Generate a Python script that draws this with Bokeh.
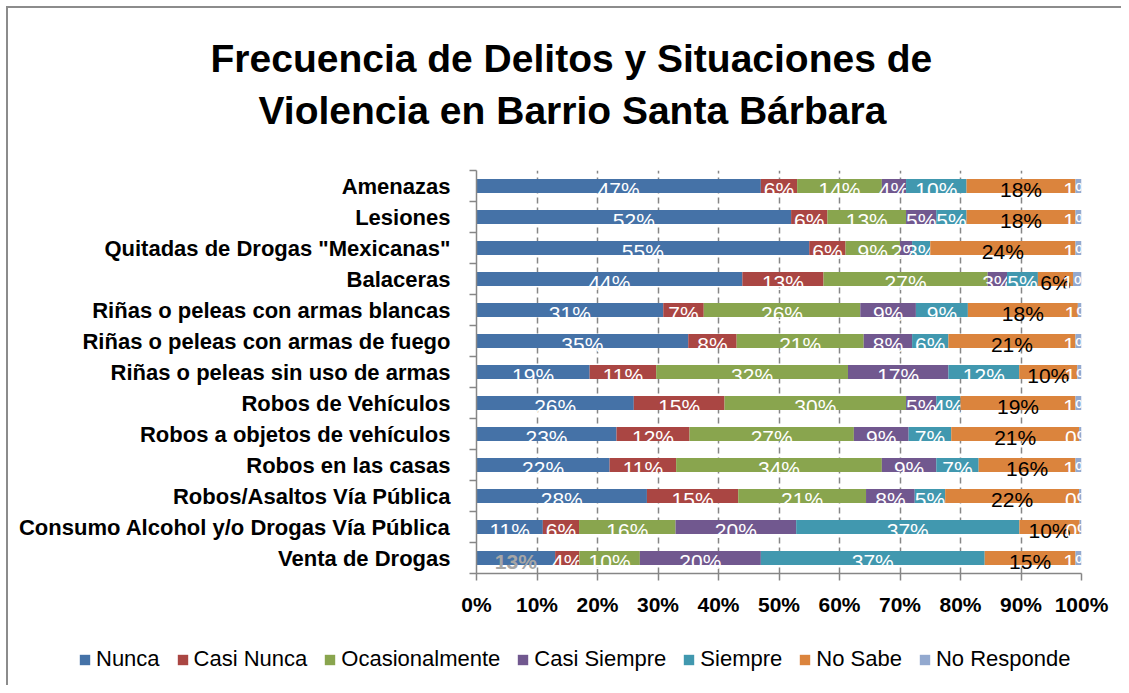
from bokeh.plotting import figure
from bokeh.layouts import column
from bokeh.models import FixedTicker, PrintfTickFormatter, Title, ColumnDataSource, Range1d, Legend
from bokeh.embed import file_html
from bokeh.resources import INLINE

# ---------------- data ----------------
categories = [
    "Amenazas",
    "Lesiones",
    'Quitadas de Drogas "Mexicanas"',
    "Balaceras",
    "Riñas o peleas con armas blancas",
    "Riñas o peleas con armas de fuego",
    "Riñas o peleas sin uso de armas",
    "Robos de Vehículos",
    "Robos a objetos de vehículos",
    "Robos en las casas",
    "Robos/Asaltos Vía Pública",
    "Consumo Alcohol y/o Drogas Vía Pública",
    "Venta de Drogas",
]
series_names = ["Nunca", "Casi Nunca", "Ocasionalmente", "Casi Siempre",
                "Siempre", "No Sabe", "No Responde"]

nunca        = [47, 52, 55, 43.9, 30.9, 35, 18.7, 26, 23, 22, 28, 11, 13]
casi_nunca   = [6, 6, 6, 13.4, 6.7, 8, 11.0, 15, 12, 11, 15, 6, 4]
ocasional    = [14, 13, 9, 27.1, 25.9, 21, 31.7, 30, 27, 34, 21, 16, 10]
casi_siempre = [4, 5, 2, 3.2, 9.2, 8, 16.6, 5, 9, 9, 8, 20, 20]
siempre      = [10, 5, 3, 5.1, 8.6, 6, 11.7, 4, 7, 7, 5, 37, 37]
no_sabe      = [18, 18, 24, 5.8, 18.2, 21, 9.6, 19, 21, 16, 22, 10, 15]
no_responde  = [1, 1, 1, 1.4, 0.6, 1, 0.7, 1, 0.4, 1, 0.4, 0.3, 1]

x_ticks = [0, 10, 20, 30, 40, 50, 60, 70, 80, 90, 100]

title_lines = ["Frecuencia de Delitos y Situaciones de",
               "Violencia en Barrio Santa Bárbara"]

# ---------------- style ----------------
colors = ["#4572A7", "#AA4643", "#89A54E", "#71588F", "#4198AF", "#DB843D", "#93A9CF"]
label_colors = ["white", "white", "white", "white", "white", "black", "white"]
SANS = "Liberation Sans"
GRAY = "#868686"

series = [nunca, casi_nunca, ocasional, casi_siempre, siempre, no_sabe, no_responde]
n = len(categories)
ys = [n - 1 - i for i in range(n)]
totals = [sum(s[i] for s in series) for i in range(n)]

p = figure(
    frame_width=605, frame_height=403,
    min_border_left=468, min_border_right=40, min_border_top=162, min_border_bottom=50,
    x_range=Range1d(0, 100), y_range=Range1d(-0.5, n - 0.5),
    output_backend="svg", toolbar_location=None,
)
p.frame_align = False
p.outline_line_color = None
p.background_fill_color = "white"
p.border_fill_color = "white"

# legend strip under the chart; its swatch renderers share the bar data but lie
# outside this strip's visible range, so only the legend itself shows
leg_fig = figure(width=1113, height=62, min_border=0, x_axis_type=None, y_axis_type=None,
                 x_range=Range1d(0, 100), y_range=Range1d(n + 10, n + 11),
                 output_backend="svg", toolbar_location=None)
leg_fig.frame_align = False
leg_fig.outline_line_color = None
leg_fig.grid.visible = False
leg_fig.border_fill_color = "white"
leg_fig.background_fill_color = "white"

items = []
cum = [0.0] * n
for k, (name, vals) in enumerate(zip(series_names, series)):
    left = [cum[i] / totals[i] * 100 for i in range(n)]
    right = [(cum[i] + vals[i]) / totals[i] * 100 for i in range(n)]
    mid = [(l + r) / 2 for l, r in zip(left, right)]
    cum = [cum[i] + vals[i] for i in range(n)]
    tcol = [label_colors[k]] * n
    tstyle = ["normal"] * n
    if k == 0:
        tcol[-1] = "#a6a6a6"
        tstyle[-1] = "bold"
    src = ColumnDataSource(dict(y=ys, left=left, right=right, mid=mid,
                                lab=[f"{round(v)}%" for v in vals],
                                tc=tcol, ts=tstyle))
    p.hbar(y="y", left="left", right="right", height=0.45, source=src,
           fill_color=colors[k], line_color=None)
    p.text(x="mid", y="y", text="lab", source=src, text_align="center",
           text_baseline="middle", y_offset=3, text_color="tc", text_font_style="ts",
           text_font={"value": SANS}, text_font_size="21px")
    sw = leg_fig.hbar(y="y", left="left", right="right", height=0.45, source=src,
                      fill_color=colors[k], line_color=None)
    items.append((name, [sw]))

# x axis
p.xaxis.ticker = FixedTicker(ticks=x_ticks)
p.xaxis.formatter = PrintfTickFormatter(format="%d%%")
p.xaxis.axis_line_color = GRAY
p.xaxis.axis_line_width = 1.5
p.xaxis.major_tick_line_color = GRAY
p.xaxis.major_tick_line_width = 1.5
p.xaxis.major_tick_out = 7
p.xaxis.major_tick_in = 0
p.xaxis.minor_tick_line_color = None
p.xaxis.major_label_standoff = 12
p.xaxis.major_label_text_font = SANS
p.xaxis.major_label_text_font_style = "bold"
p.xaxis.major_label_text_font_size = "21px"
p.xaxis.major_label_text_color = "black"

p.xgrid.ticker = FixedTicker(ticks=x_ticks)
p.xgrid.grid_line_color = GRAY
p.xgrid.grid_line_dash = "6 4"
p.xgrid.grid_line_width = 1.5
p.ygrid.grid_line_color = None

# y axis
boundaries = [i - 0.5 for i in range(n + 1)]
p.yaxis.ticker = FixedTicker(ticks=ys, minor_ticks=boundaries)
p.yaxis.major_label_overrides = {y: c for y, c in zip(ys, categories)}
p.yaxis.axis_line_color = GRAY
p.yaxis.axis_line_width = 1.5
p.yaxis.major_tick_line_color = None
p.yaxis.major_tick_out = 0
p.yaxis.major_tick_in = 0
p.yaxis.minor_tick_line_color = GRAY
p.yaxis.minor_tick_line_width = 1.5
p.yaxis.minor_tick_out = 7
p.yaxis.minor_tick_in = 0
p.yaxis.major_label_standoff = 19
p.yaxis.major_label_text_font = SANS
p.yaxis.major_label_text_font_style = "bold"
p.yaxis.major_label_text_font_size = "22px"
p.yaxis.major_label_text_color = "black"

# title (two lines, centred over the whole chart); a blank spacer keeps it off the frame
p.add_layout(Title(text=" ", standoff=31, text_font_size="1px"), "above")
p.add_layout(Title(text=title_lines[1], align="left", offset=-218, standoff=10,
                   text_font=SANS, text_font_style="bold", text_font_size="39px",
                   text_color="black"), "above")
p.add_layout(Title(text=title_lines[0], align="left", offset=-266, standoff=4,
                   text_font=SANS, text_font_style="bold", text_font_size="39px",
                   text_color="black"), "above")

# legend
lg = Legend(items=items, orientation="horizontal", location=(70, 13),
            padding=0, margin=0, spacing=16, glyph_width=13, glyph_height=13,
            label_standoff=5, border_line_color=None, background_fill_alpha=0,
            label_text_font=SANS, label_text_font_size="22px", label_text_color="black")
leg_fig.add_layout(lg, "center")

layout = column(p, leg_fig, spacing=0,
                styles={"margin-left": "6px", "margin-top": "6px",
                        "border-left": "2px solid #8c8c8c", "border-top": "2px solid #8c8c8c"})

open("out.html", "w").write(file_html(layout, INLINE))
